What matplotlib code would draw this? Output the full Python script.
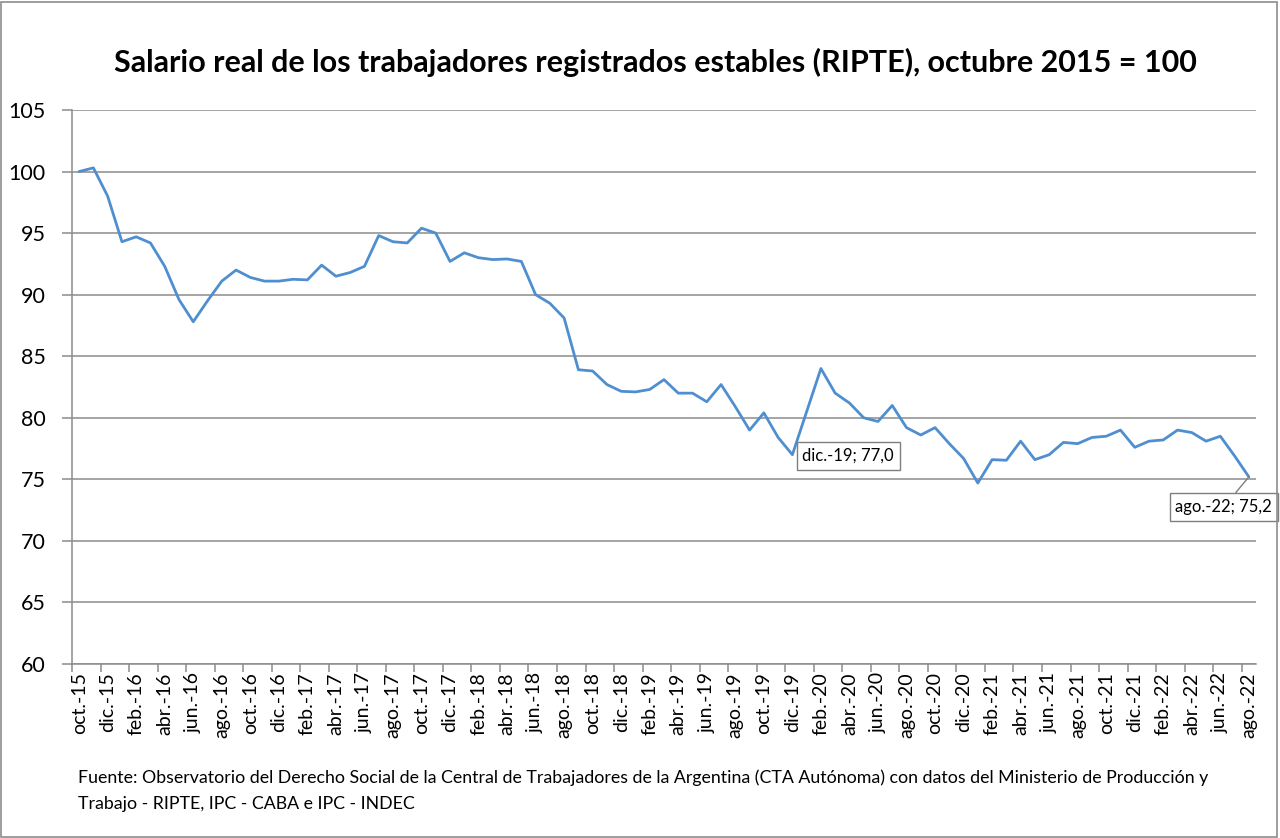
import numpy as np
import matplotlib
matplotlib.use("Agg")
import matplotlib.pyplot as plt
from matplotlib.patches import Rectangle

plt.rcParams['font.family'] = ['Lato', 'DejaVu Sans']

# salario real RIPTE, oct-15 = 100 (mensual, oct-15 .. ago-22)
salario = [100.0, 100.3, 98.0, 94.3, 94.7, 94.2, 92.3, 89.6, 87.8, 89.5,
           91.1, 92.0, 91.4, 91.1, 91.1, 91.25, 91.2, 92.4, 91.5, 91.8,
           92.3, 94.8, 94.3, 94.2, 95.4, 95.0, 92.7, 93.4, 93.0, 92.85,
           92.9, 92.7, 90.0, 89.3, 88.1, 83.9, 83.8, 82.7, 82.15, 82.1,
           82.3, 83.1, 82.0, 82.0, 81.3, 82.7, 80.9, 79.0, 80.4, 78.4,
           77.0, 80.5, 84.0, 82.0, 81.2, 80.0, 79.7, 81.0, 79.2, 78.6,
           79.2, 77.9, 76.7, 74.7, 76.6, 76.55, 78.1, 76.6, 77.0, 78.0,
           77.9, 78.4, 78.5, 79.0, 77.6, 78.1, 78.2, 79.0, 78.8, 78.1,
           78.5, 76.9, 75.2]

etiquetas = ['oct.-15', 'dic.-15',
             'feb.-16', 'abr.-16', 'jun.-16', 'ago.-16', 'oct.-16', 'dic.-16',
             'feb.-17', 'abr.-17', 'jun.-17', 'ago.-17', 'oct.-17', 'dic.-17',
             'feb.-18', 'abr.-18', 'jun.-18', 'ago.-18', 'oct.-18', 'dic.-18',
             'feb.-19', 'abr.-19', 'jun.-19', 'ago.-19', 'oct.-19', 'dic.-19',
             'feb.-20', 'abr.-20', 'jun.-20', 'ago.-20', 'oct.-20', 'dic.-20',
             'feb.-21', 'abr.-21', 'jun.-21', 'ago.-21', 'oct.-21', 'dic.-21',
             'feb.-22', 'abr.-22', 'jun.-22', 'ago.-22']

anotaciones = [(50, 'dic.-19; 77,0'), (82, 'ago.-22; 75,2')]

gris = '#8c8c8c'

fig = plt.figure(figsize=(12.8, 8.38), dpi=100)
ax = fig.add_axes([72 / 1280, 1 - 664 / 838, 1184 / 1280, 554 / 838])

x = np.arange(len(salario))
ax.plot(x, salario, color='#4F8FD0', lw=2.0, solid_joinstyle='round',
        solid_capstyle='round', zorder=3)

ax.set_xlim(-0.5, len(salario) - 0.5)
ax.set_ylim(60, 105)
ax.set_yticks(np.arange(60, 106, 5))
ax.yaxis.grid(True, color=gris, lw=1.1)
ax.set_axisbelow(True)

# etiquetas cada dos meses, marcas entre categorias
ax.set_xticks(np.arange(0, len(salario), 2))
ax.set_xticklabels(etiquetas, rotation=90, fontsize=14)
ax.set_xticks(np.arange(-0.5, len(salario), 2), minor=True)
ax.tick_params(axis='x', which='major', length=0, pad=6)
ax.tick_params(axis='x', which='minor', length=6, color=gris, width=1.1)
ax.tick_params(axis='y', length=7, color=gris, width=1.1, labelsize=15.5, pad=12)

for s in ['top', 'right']:
    ax.spines[s].set_visible(False)
for s in ['left', 'bottom']:
    ax.spines[s].set_color(gris)
    ax.spines[s].set_linewidth(1.1)

for i, txt in anotaciones:
    if i == 50:
        ax.annotate(txt, (i, salario[i]), xytext=(10, -1), textcoords='offset pixels',
                    ha='left', va='center', fontsize=12,
                    bbox=dict(boxstyle='square,pad=0.35', fc='white', ec='#7f7f7f', lw=1),
                    zorder=5)
    else:
        ax.annotate(txt, (i, salario[i]), xytext=(-25, -30), textcoords='offset pixels',
                    ha='center', va='center', fontsize=12,
                    bbox=dict(boxstyle='square,pad=0.35', fc='white', ec='#7f7f7f', lw=1),
                    arrowprops=dict(arrowstyle='-', color='#7f7f7f', lw=1,
                                    shrinkA=0, shrinkB=0),
                    annotation_clip=False, zorder=5)

fig.text(655 / 1280, 1 - 62 / 838,
         'Salario real de los trabajadores registrados estables (RIPTE), octubre 2015 = 100',
         ha='center', va='center', fontsize=22, fontweight='bold')

fig.text(78 / 1280, 1 - 778 / 838,
         'Fuente: Observatorio del Derecho Social de la Central de Trabajadores de la Argentina '
         '(CTA Autónoma) con datos del Ministerio de Producción y',
         ha='left', va='center', fontsize=12.8)
fig.text(78 / 1280, 1 - 804 / 838, 'Trabajo - RIPTE, IPC - CABA e IPC - INDEC',
         ha='left', va='center', fontsize=12.8)

fig.patches.append(Rectangle((0.001, 0.001), 0.997, 0.997, transform=fig.transFigure,
                             fill=False, ec=gris, lw=1.2))

fig.savefig('out.png', dpi=100)
